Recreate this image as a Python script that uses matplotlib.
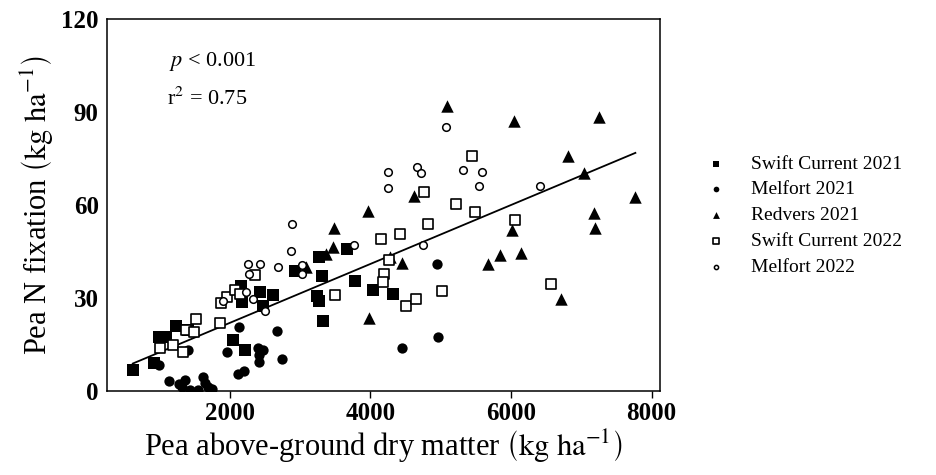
import numpy as np
import matplotlib
matplotlib.use("Agg")
import matplotlib.pyplot as plt

plt.rcParams['font.family'] = ['Liberation Serif', 'DejaVu Serif']
plt.rcParams['mathtext.fontset'] = 'stix'

# Swift Current 2021 (filled squares)
sc21_x = [617, 924, 984, 1091, 1233, 1399, 2048, 2214, 2153, 2167, 2423, 2470,
          2612, 2932, 3262, 3313, 3245, 3271, 3330, 3672, 3785, 4030, 4314]
sc21_y = [6.8, 9.1, 17.3, 17.4, 21.0, 19.7, 16.6, 13.3, 33.8, 28.8, 31.9, 27.4,
          31.0, 38.8, 43.1, 37.1, 30.8, 28.9, 22.7, 45.9, 35.6, 32.5, 31.4]

# Melfort 2021 (filled circles)
mf21_x = [991, 1133, 1280, 1361, 1314, 1399, 1432, 1550, 1621, 1645, 1692, 1740,
          1965, 2129, 2119, 2200, 2403, 2477, 2417, 2417, 2665, 2736, 4940, 4963, 4451]
mf21_y = [8.4, 3.3, 2.3, 3.5, 1.4, 13.2, 0.3, 0.3, 4.6, 2.7, 1.4, 0.5,
          12.7, 20.5, 5.5, 6.5, 13.8, 13.2, 11.5, 9.2, 19.4, 10.2, 41.1, 17.3, 14.0]

# Redvers 2021 (filled triangles)
rv21_x = [3081, 3362, 3473, 3484, 3970, 3985, 4283, 4451, 4622, 5082, 5677, 5840,
          6021, 6044, 6149, 6718, 6811, 7035, 7177, 7201, 7248, 7770]
rv21_y = [40.1, 44.3, 46.4, 52.6, 58.2, 23.7, 43.3, 41.2, 62.8, 91.8, 40.9, 43.9,
          51.9, 87.2, 44.4, 29.6, 75.8, 70.2, 57.5, 52.5, 88.3, 62.7]

# Swift Current 2022 (open squares)
sc22_x = [1006, 1194, 1337, 1368, 1514, 1493, 1859, 1877, 1954, 2068, 2143, 2356,
          3494, 4152, 4418, 4265, 4195, 4172, 4812, 4762, 4501, 4646, 5011, 5219,
          5442, 5492, 6063, 6575]
sc22_y = [13.9, 14.8, 12.7, 19.7, 23.2, 19.1, 22.1, 28.3, 30.3, 32.7, 31.3, 37.4,
          31.1, 48.9, 50.7, 42.3, 37.6, 35.3, 53.8, 64.3, 27.5, 29.7, 32.4, 60.2,
          75.7, 57.6, 55.3, 34.5]

# Melfort 2022 (open circles)
mf22_x = [1905, 2228, 2252, 2278, 2321, 2432, 2498, 2683, 2887, 2872, 3025, 3029,
          3764, 4252, 4252, 4660, 4713, 4750, 5072, 5318, 5594, 5546, 6419]
mf22_y = [29.1, 32.1, 41.0, 37.8, 29.7, 41.0, 25.9, 39.9, 53.8, 45.1, 40.5, 37.8,
          47.1, 65.6, 70.7, 72.4, 70.2, 47.1, 85.3, 71.3, 70.7, 66.1, 66.1]

# fitted line
fit_intercept = 3.0
fit_slope = 0.0095

x_ticks = [2000, 4000, 6000, 8000]
y_ticks = [0, 30, 60, 90, 120]

fig = plt.figure(figsize=(9.36, 4.75), dpi=100)
ax = fig.add_axes([0.1143, 0.1768, 0.5908, 0.7832])

ax.scatter(sc21_x, sc21_y, marker='s', s=70, c='black', linewidths=0,
           label='Swift Current 2021', zorder=3)
ax.scatter(mf21_x, mf21_y, marker='o', s=55, c='black', linewidths=0,
           label='Melfort 2021', zorder=3)
ax.scatter(rv21_x, rv21_y, marker='^', s=80, c='black', linewidths=0,
           label='Redvers 2021', zorder=3)
ax.scatter(sc22_x, sc22_y, marker='s', s=60, facecolors='white',
           edgecolors='black', linewidths=1.2, label='Swift Current 2022', zorder=3)
ax.scatter(mf22_x, mf22_y, marker='o', s=30, facecolors='white',
           edgecolors='black', linewidths=1.1, label='Melfort 2022', zorder=3)

all_x = np.concatenate([sc21_x, mf21_x, rv21_x, sc22_x, mf22_x])
xs = np.linspace(all_x.min(), all_x.max(), 50)
ax.plot(xs, fit_intercept + fit_slope * xs, color='black', lw=1.3, zorder=2)

ax.set_xlim(250, 8120)
ax.set_ylim(0, 120)
ax.set_xticks(x_ticks)
ax.set_yticks(y_ticks)
ax.tick_params(axis='x', direction='out', length=5, width=1, pad=3,
               labelsize=18)
ax.tick_params(axis='y', length=0, pad=6, labelsize=18)
for lab in ax.get_xticklabels() + ax.get_yticklabels():
    lab.set_fontweight('bold')
for sp in ax.spines.values():
    sp.set_linewidth(1.1)

ax.set_xlabel(r'Pea above-ground dry matter $\left(\mathrm{kg\ ha}^{-1}\right)$',
              fontsize=22, labelpad=2)
ax.set_ylabel(r'Pea N fixation $\left(\mathrm{kg\ ha}^{-1}\right)$',
              fontsize=22, labelpad=4)

ax.text(0.112, 0.885, r'$p$ < 0.001', transform=ax.transAxes, fontsize=16,
        va='center')
ax.text(0.108, 0.787, r'r$^2$ = 0.75', transform=ax.transAxes, fontsize=16,
        va='center')

ax.legend(loc='upper left', bbox_to_anchor=(0.736, 0.69),
          bbox_transform=fig.transFigure, frameon=False, fontsize=14,
          markerscale=0.55, handletextpad=0.8, labelspacing=0.42,
          borderaxespad=0)

fig.savefig('out.png', dpi=100)
